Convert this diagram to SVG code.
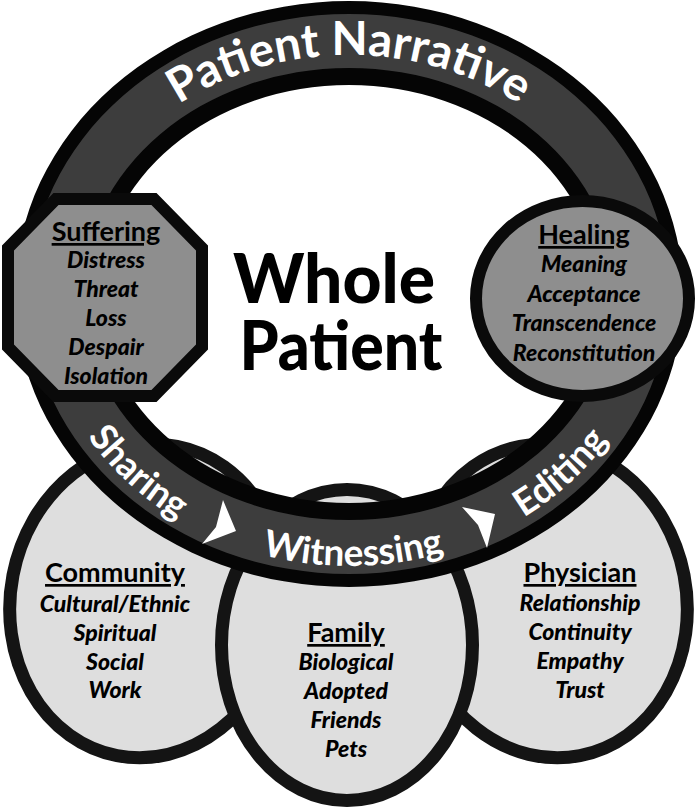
<svg xmlns="http://www.w3.org/2000/svg" xmlns:xlink="http://www.w3.org/1999/xlink" width="699" height="810" viewBox="0 0 699 810">
  <style>
    text { font-family: Lato, "Open Sans", "Liberation Sans", sans-serif; font-weight: 900; text-anchor: middle; }
    .oval { fill: #dedede; stroke: #141414; stroke-width: 13; }
    .mid { fill: #8e8e8e; stroke: #0a0a0a; stroke-width: 12; stroke-linejoin: miter; }
    .hdr { font-size: 27px; font-weight: bold; text-decoration: underline; fill: #000; }
    .item { font-size: 23px; font-style: italic; fill: #000; }
    .ringtxt { fill: #ffffff; font-weight: bold; }
    .arrow { fill: #ffffff; }
  </style>
  <defs>
    <path id="topArc" d="M 69 294 A 280 239 0 0 1 629 294"/>
    <path id="botArc" d="M 42 294 A 307 272 0 0 0 656 294"/>
  </defs>
  <rect width="699" height="810" fill="#ffffff"/>

  <!-- bottom ovals (behind ring) -->
  <g id="community">
    <ellipse class="oval" cx="147" cy="601" rx="136.5" ry="157.5" transform="rotate(11 147 601)"/>
    <text class="hdr" x="115" y="582">Community</text>
    <text class="item" x="115" y="612">Cultural/Ethnic</text>
    <text class="item" x="115" y="641">Spiritual</text>
    <text class="item" x="115" y="670">Social</text>
    <text class="item" x="115" y="698">Work</text>
  </g>
  <g id="physician">
    <ellipse class="oval" cx="550" cy="601" rx="136.5" ry="157.5" transform="rotate(-11 550 601)"/>
    <text class="hdr" x="580" y="582">Physician</text>
    <text class="item" x="580" y="611">Relationship</text>
    <text class="item" x="580" y="640">Continuity</text>
    <text class="item" x="580" y="669">Empathy</text>
    <text class="item" x="580" y="698">Trust</text>
  </g>
  <g id="family">
    <ellipse class="oval" cx="347" cy="645" rx="125.5" ry="155.5"/>
    <text class="hdr" x="346" y="642">Family</text>
    <text class="item" x="346" y="670">Biological</text>
    <text class="item" x="346" y="699">Adopted</text>
    <text class="item" x="346" y="728">Friends</text>
    <text class="item" x="346" y="757">Pets</text>
  </g>

  <!-- narrative ring -->
  <g id="ring">
    <path fill="#050505" fill-rule="evenodd" d="M 15 294 A 334 293 0 1 1 683 294 A 334 293 0 1 1 15 294 Z M 99 294 A 250 209 0 1 0 599 294 A 250 209 0 1 0 99 294 Z"/>
    <path fill="#3d3d3d" fill-rule="evenodd" d="M 29 294 A 320 280 0 1 1 669 294 A 320 280 0 1 1 29 294 Z M 82 294 A 267 226 0 1 0 616 294 A 267 226 0 1 0 82 294 Z"/>
    <text class="ringtxt" font-size="47"><textPath xlink:href="#topArc" startOffset="50%">Patient Narrative</textPath></text>
    <text class="ringtxt" font-size="37"><textPath xlink:href="#botArc" startOffset="23.5%">Sharing</textPath></text>
    <text class="ringtxt" font-size="37"><textPath xlink:href="#botArc" startOffset="50.5%">Witnessing</textPath></text>
    <text class="ringtxt" font-size="37"><textPath xlink:href="#botArc" startOffset="76.5%">Editing</textPath></text>
  </g>

  <!-- flow arrows along ring -->
  <g id="connectors">
    <polygon class="arrow" points="223,500 236,531 202,544 216,527"/>
    <polygon class="arrow" points="462,507 495,514 487,548 478,525"/>
  </g>

  <g id="suffering">
    <polygon class="mid" points="56,199 154,199 202,248 202,347 154,396 56,396 8,347 8,248"/>
    <text class="hdr" x="106" y="241">Suffering</text>
    <text class="item" x="106" y="268">Distress</text>
    <text class="item" x="106" y="297">Threat</text>
    <text class="item" x="106" y="326">Loss</text>
    <text class="item" x="106" y="355">Despair</text>
    <text class="item" x="106" y="384">Isolation</text>
  </g>

  <g id="healing">
    <ellipse class="mid" cx="582.5" cy="298.5" rx="106.5" ry="97.5"/>
    <text class="hdr" x="584" y="244">Healing</text>
    <text class="item" x="584" y="272">Meaning</text>
    <text class="item" x="584" y="302">Acceptance</text>
    <text class="item" x="584" y="331">Transcendence</text>
    <text class="item" x="584" y="361">Reconstitution</text>
  </g>

  <g id="whole-patient">
    <text x="334" y="303" font-size="68" textLength="202" lengthAdjust="spacingAndGlyphs">Whole</text>
    <text x="341" y="370" font-size="68" textLength="203" lengthAdjust="spacingAndGlyphs">Patient</text>
  </g>
</svg>
